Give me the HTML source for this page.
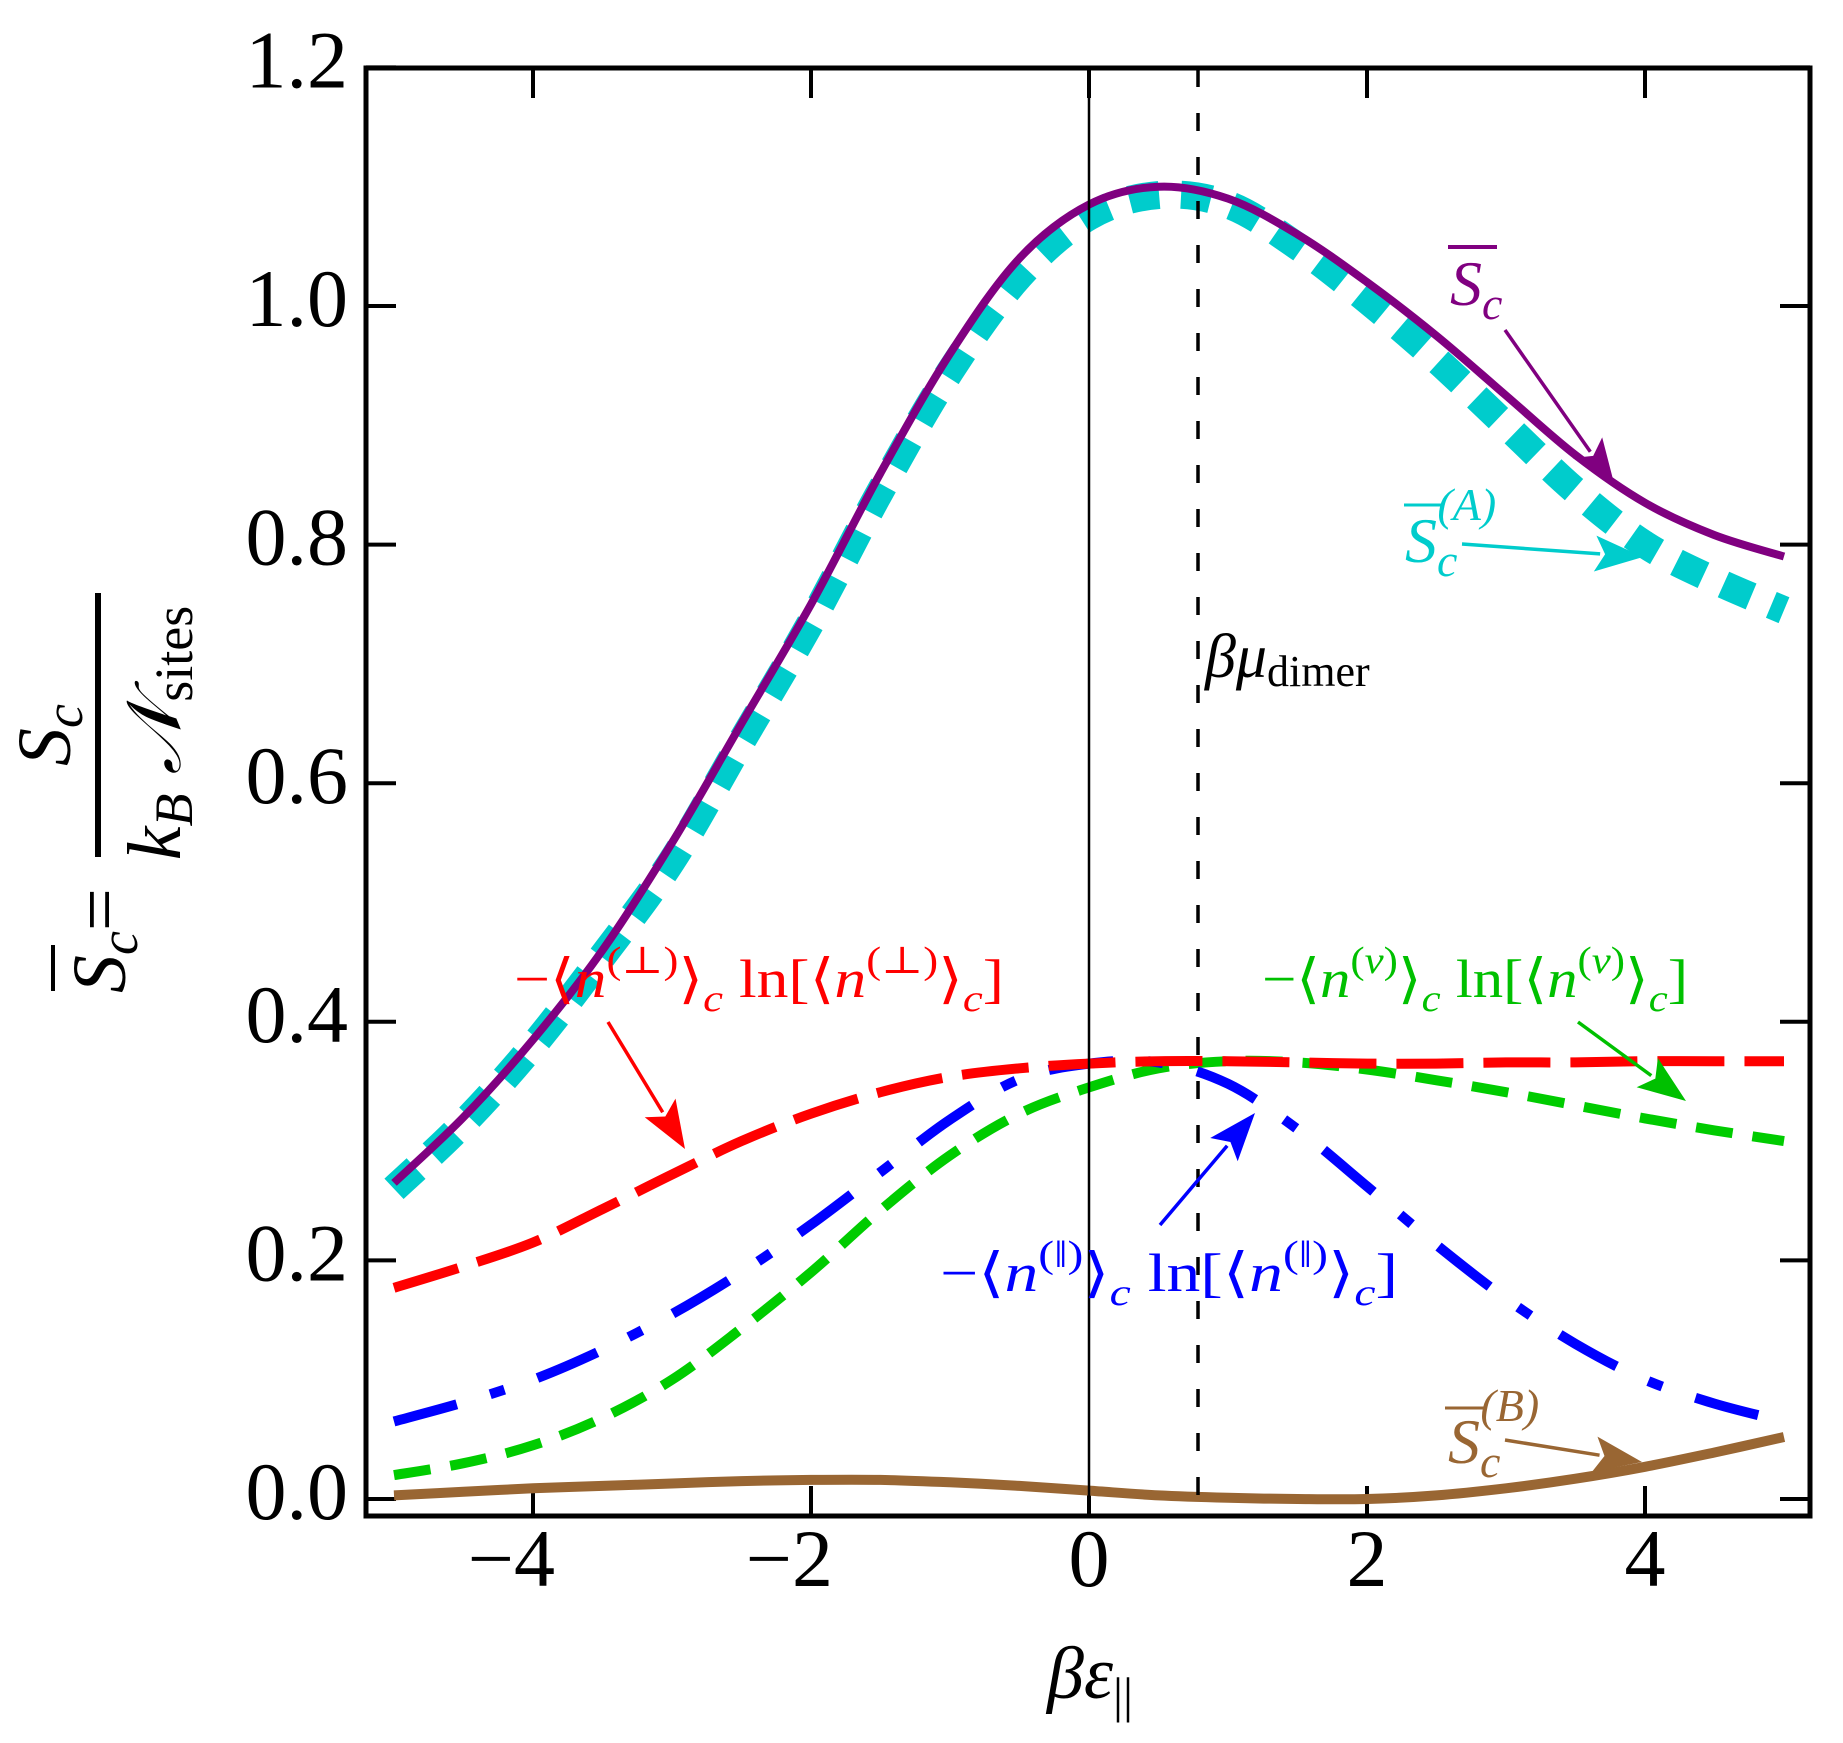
<!DOCTYPE html>
<html><head><meta charset="utf-8"><style>
html,body{margin:0;padding:0;background:#fff;}
svg{display:block;}
text{font-family:"Liberation Serif","DejaVu Serif",serif;}
</style></head><body>
<svg id="chart" width="1843" height="1743" viewBox="0 0 1843 1743" xmlns="http://www.w3.org/2000/svg">
<g id="plot"></g>
<g id="ann">
  <line x1="1089" y1="69" x2="1089" y2="1516" stroke="#000" stroke-width="2.5"/>
  <line x1="1198" y1="69" x2="1198" y2="1516" stroke="#000" stroke-width="3.5" stroke-dasharray="18,26"/>
  <text x="1205" y="677" font-size="62" font-style="italic">βμ<tspan font-style="normal" font-size="44" dy="9">dimer</tspan></text>

  <text x="1450" y="305" font-size="64" font-style="italic" fill="#800080">S<tspan font-size="46" dy="14">c</tspan></text>
  <line x1="1448" y1="247" x2="1497" y2="247" stroke="#800080" stroke-width="4"/>

  <text x="1405" y="562" font-size="64" font-style="italic" fill="#00CCCC">S<tspan font-size="46" dy="14">c</tspan><tspan font-size="46" dx="-20" dy="-56" font-style="italic">(A)</tspan></text>
  <line x1="1404" y1="505" x2="1442" y2="505" stroke="#00CCCC" stroke-width="3"/>

  <text x="1448" y="1463" font-size="64" font-style="italic" fill="#996633">S<tspan font-size="46" dy="14">c</tspan><tspan font-size="46" dx="-20" dy="-56">(B)</tspan></text>
  <line x1="1445" y1="1408" x2="1484" y2="1408" stroke="#996633" stroke-width="3"/>

  <text x="514" y="997" font-size="54" fill="#FF0000" textLength="490" lengthAdjust="spacingAndGlyphs">−⟨<tspan font-style="italic">n</tspan><tspan font-size="38" dy="-24">(⊥)</tspan><tspan dy="24">⟩</tspan><tspan font-size="38" font-style="italic" dy="14">c</tspan><tspan dy="-14"> ln[⟨</tspan><tspan font-style="italic">n</tspan><tspan font-size="38" dy="-24">(⊥)</tspan><tspan dy="24">⟩</tspan><tspan font-size="38" font-style="italic" dy="14">c</tspan><tspan dy="-14">]</tspan></text>

  <text x="1262" y="997" font-size="54" fill="#00C000" textLength="426" lengthAdjust="spacingAndGlyphs">−⟨<tspan font-style="italic">n</tspan><tspan font-size="38" dy="-24">(<tspan font-style="italic">v</tspan>)</tspan><tspan dy="24">⟩</tspan><tspan font-size="38" font-style="italic" dy="14">c</tspan><tspan dy="-14"> ln[⟨</tspan><tspan font-style="italic">n</tspan><tspan font-size="38" dy="-24">(<tspan font-style="italic">v</tspan>)</tspan><tspan dy="24">⟩</tspan><tspan font-size="38" font-style="italic" dy="14">c</tspan><tspan dy="-14">]</tspan></text>

  <text x="940" y="1291" font-size="54" fill="#0000FF" textLength="458" lengthAdjust="spacingAndGlyphs">−⟨<tspan font-style="italic">n</tspan><tspan font-size="38" dy="-24">(‖)</tspan><tspan dy="24">⟩</tspan><tspan font-size="38" font-style="italic" dy="14">c</tspan><tspan dy="-14"> ln[⟨</tspan><tspan font-style="italic">n</tspan><tspan font-size="38" dy="-24">(‖)</tspan><tspan dy="24">⟩</tspan><tspan font-size="38" font-style="italic" dy="14">c</tspan><tspan dy="-14">]</tspan></text>

  <text x="1090" y="1698" font-size="74" font-style="italic" text-anchor="middle">βε<tspan font-style="normal" font-size="50" dy="14">||</tspan></text>

  <g transform="translate(98,725) rotate(-90)">
    <line x1="-132" y1="0" x2="132" y2="0" stroke="#000" stroke-width="6"/>
    <text x="-10" y="-28" font-size="76" font-style="italic" text-anchor="middle">S<tspan font-size="54" dy="12">c</tspan></text>
    <text x="-8" y="82" font-size="76" font-style="italic" text-anchor="middle">k<tspan font-size="54" dy="12">B</tspan><tspan dy="-12"> 𝒩</tspan><tspan font-style="normal" font-size="54" dy="12">sites</tspan></text>
    <text x="-268" y="27" font-size="76" font-style="italic">S<tspan font-size="54" dy="12">c</tspan><tspan font-style="normal" dy="-12">=</tspan></text>
    <line x1="-266" y1="-45" x2="-220" y2="-45" stroke="#000" stroke-width="4"/>
  </g>
</g>
</svg>
<script>
const xVals = [-5,-4.5,-4,-3.5,-3,-2.5,-2,-1.5,-1,-0.5,0,0.5,1,1.5,2,2.5,3,3.5,4,4.5,5];
const scBar   = [0.265,0.32,0.385,0.46,0.55,0.65,0.75,0.86,0.96,1.04,1.085,1.10,1.09,1.06,1.02,0.975,0.925,0.875,0.835,0.808,0.79];
const scA     = [0.26,0.315,0.38,0.455,0.535,0.635,0.735,0.845,0.945,1.025,1.075,1.093,1.085,1.05,1.005,0.955,0.9,0.845,0.8,0.77,0.745];
const perp    = [0.177,0.195,0.215,0.243,0.272,0.30,0.323,0.341,0.354,0.361,0.365,0.367,0.367,0.366,0.365,0.365,0.366,0.366,0.367,0.367,0.367];
const par     = [0.065,0.081,0.1,0.125,0.155,0.19,0.23,0.274,0.318,0.352,0.365,0.366,0.348,0.31,0.262,0.213,0.168,0.13,0.1,0.08,0.065];
const vac     = [0.02,0.03,0.045,0.068,0.1,0.143,0.19,0.242,0.288,0.323,0.345,0.361,0.367,0.366,0.36,0.351,0.341,0.33,0.319,0.309,0.3];
const scB     = [0.003,0.006,0.009,0.011,0.013,0.015,0.016,0.016,0.014,0.011,0.007,0.003,0.001,0,0,0.003,0.009,0.017,0.027,0.039,0.052];
const xTicks = [-4,-2,0,2,4];
const xTickLabels = ["−4","−2","0","2","4"];
const yTicks = [0,0.2,0.4,0.6,0.8,1.0,1.2];
const yTickLabels = ["0.0","0.2","0.4","0.6","0.8","1.0","1.2"];

const NS="http://www.w3.org/2000/svg";
const X0=1089, XU=139, Y0=1499, YU=1193;
const L=366, R=1810, T=68, B=1516;
function sx(v){return X0+XU*v;}
function sy(v){return Y0-YU*v;}
const plot=document.getElementById('plot');
function mk(tag,attrs,parent){const e=document.createElementNS(NS,tag);for(const k in attrs)e.setAttribute(k,attrs[k]);(parent||plot).appendChild(e);return e;}
function smooth(xs,ys){
  const p=xs.map((x,i)=>[sx(x),sy(ys[i])]);
  let d="M"+p[0][0].toFixed(1)+","+p[0][1].toFixed(1);
  for(let i=0;i<p.length-1;i++){
    const p0=p[Math.max(i-1,0)],p1=p[i],p2=p[i+1],p3=p[Math.min(i+2,p.length-1)];
    const c1=[p1[0]+(p2[0]-p0[0])/6,p1[1]+(p2[1]-p0[1])/6];
    const c2=[p2[0]-(p3[0]-p1[0])/6,p2[1]-(p3[1]-p1[1])/6];
    d+=" C"+c1[0].toFixed(1)+","+c1[1].toFixed(1)+" "+c2[0].toFixed(1)+","+c2[1].toFixed(1)+" "+p2[0].toFixed(1)+","+p2[1].toFixed(1);
  }
  return d;
}
const fr=mk('rect',{x:L,y:T,width:R-L,height:B-T,fill:'none',stroke:'#000','stroke-width':5});


xTicks.forEach((v,i)=>{
  const t1=mk('line',{x1:sx(v),x2:sx(v),y1:B,y2:B-30,stroke:'#000','stroke-width':4});
  
  
  const t2=mk('line',{x1:sx(v),x2:sx(v),y1:T,y2:T+30,stroke:'#000','stroke-width':4});
  
  
  const neg=xTickLabels[i].startsWith('−');
  const tx=mk('text',{x:neg?sx(v)+22:sx(v),y:1586,'font-size':82,'text-anchor':neg?'end':'middle'});
  
  
  tx.textContent=xTickLabels[i];
});
yTicks.forEach((v,i)=>{
  const t1=mk('line',{x1:L,x2:L+30,y1:sy(v),y2:sy(v),stroke:'#000','stroke-width':4});
  
  
  const t2=mk('line',{x1:R,x2:R-30,y1:sy(v),y2:sy(v),stroke:'#000','stroke-width':4});
  
  
  const tx=mk('text',{x:348,y:sy(v)+20,'font-size':82,'text-anchor':'end'});
  
  
  tx.textContent=yTickLabels[i];
});
function series(ys,color,w,dash,name){
  const a={d:smooth(xVals,ys),fill:'none',stroke:color,'stroke-width':w};
  if(dash)a['stroke-dasharray']=dash;
  const p=mk('path',a);
  
  
}
series(scB,'#996633',10,null,'series-sc-b');
series(vac,'#00CC00',10,'37,20','series-vacancy');
series(par,'#0000FF',10,'65,35,15,35','series-parallel');
series(perp,'#FF0000',10,'67,20','series-perpendicular');
series(scA,'#00CCCC',28,'30,22','series-sc-a');
series(scBar,'#800080',8,null,'series-sc-bar');

const ann=document.getElementById('ann');
function arrow(x1,y1,x2,y2,color,name){
  const g=mk('g',{},ann);
  
  
  const dx=x2-x1,dy=y2-y1,len=Math.hypot(dx,dy),ux=dx/len,uy=dy/len;
  const hl=48,hw=18;
  const bx=x2-ux*hl,by=y2-uy*hl;
  mk('line',{x1:x1,y1:y1,x2:bx+ux*5,y2:by+uy*5,stroke:color,'stroke-width':3.5},g);
  mk('polygon',{points:`${x2},${y2} ${bx-uy*hw},${by+ux*hw} ${bx+ux*10},${by+uy*10} ${bx+uy*hw},${by-ux*hw}`,fill:color},g);
}
arrow(1505,330,1615,487,'#800080','sc-arrow');
arrow(1462,544,1643,557,'#00CCCC','sca-arrow');
arrow(1505,1440,1642,1462,'#996633','scb-arrow');
arrow(608,1022,685,1149,'#FF0000','perp-arrow');
arrow(1578,1022,1686,1101,'#00C000','v-arrow');
arrow(1160,1225,1255,1113,'#0000FF','par-arrow');
</script>
</body></html>
